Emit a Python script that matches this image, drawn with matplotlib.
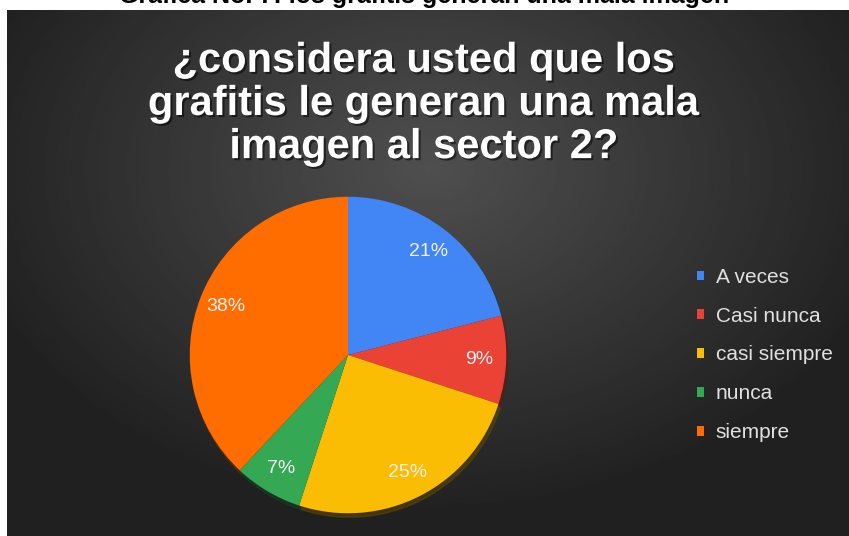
import numpy as np
import matplotlib.pyplot as plt
import matplotlib.patheffects as pe

plt.rcParams['font.family'] = ['Liberation Sans', 'DejaVu Sans']

labels = ["A veces", "Casi nunca", "casi siempre", "nunca", "siempre"]
percentages = [21, 9, 25, 7, 38]
colors = ["#4285f4", "#ea4335", "#fbbc04", "#34a853", "#ff6d01"]

title = "¿considera usted que los\ngrafitis le generan una mala\nimagen al sector 2?"
caption = "Gráfica No. 7: los grafitis generan una mala imagen"

W, H = 849, 536
fig = plt.figure(figsize=(W / 100, H / 100), dpi=100)
fig.patch.set_facecolor("white")

# dark panel with soft radial gradient
bg = fig.add_axes([7 / W, 0, (W - 7) / W, (H - 10) / H])
bg.set_axis_off()
yy, xx = np.mgrid[0:260, 0:420]
cx, cy = 0.50 * 420, 0.30 * 260
d = np.sqrt(((xx - cx) / 420) ** 2 + ((yy - cy) / 300) ** 2)
shade = np.clip(0.31 - 0.32 * d, 0.13, 0.31)
bg.imshow(shade, cmap="gray", vmin=0, vmax=1, aspect="auto",
          interpolation="bilinear", extent=[0, 1, 0, 1])

# caption cut by the top edge
fig.text(424 / W, 1 - 3 / H, caption, ha="center", va="baseline",
         fontsize=18, fontweight="bold", color="black")

fig.text(424 / W, 1 - 104 / H, title, ha="center", va="center",
         fontsize=30, fontweight="bold", color="white", linespacing=1.1,
         path_effects=[pe.withSimplePatchShadow(offset=(1.5, -1.5),
                                                shadow_rgbFace="black", alpha=0.5)])

# pie
r = 163
cxp, cyp = 348, H - 355
ax = fig.add_axes([(cxp - r) / W, (cyp - r) / H, 2 * r / W, 2 * r / H])
wedges, _, autotexts = ax.pie(
    percentages, colors=colors, startangle=90, counterclock=False,
    autopct="%d%%", pctdistance=0.83, radius=1,
    shadow={"ox": 0.008, "oy": -0.018, "shade": 0.6},
    textprops={"color": "#f2f2f2", "fontsize": 14})
ax.set_xlim(-1.03, 1.03)
ax.set_ylim(-1.03, 1.03)
ax.set_aspect("equal")
ax.set_axis_off()

fig.legend(wedges, labels, loc="center left",
           bbox_to_anchor=(697 / W, 1 - 355 / H), frameon=False,
           fontsize=15, labelcolor="#e0e0e0", handlelength=0.35,
           handleheight=0.35, handletextpad=0.55, labelspacing=0.95,
           borderpad=0, borderaxespad=0)

fig.savefig("out.png", dpi=100)
